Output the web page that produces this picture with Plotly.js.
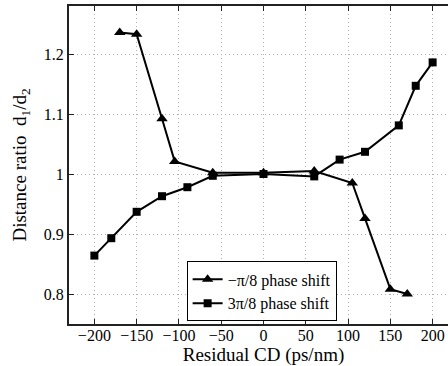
<!DOCTYPE html>
<html><head><meta charset="utf-8">
<script src="https://cdn.plot.ly/plotly-3.0.1.min.js"></script>
<style>html,body{margin:0;padding:0;overflow:hidden;background:#fff;width:448px;height:366px}</style>
</head><body>
<div id="chart" style="width:470px;height:366px"></div>
<script>
const triX = [-170, -150, -120, -105, -60, 0, 60, 105, 120, 150, 170];
const triY = [1.236, 1.233, 1.092, 1.021, 1.002, 1.002, 1.005, 0.985, 0.926, 0.808, 0.800];
const sqX = [-200, -180, -150, -120, -90, -60, 0, 60, 90, 120, 160, 180, 200];
const sqY = [0.864, 0.893, 0.937, 0.963, 0.978, 0.997, 1.000, 0.996, 1.024, 1.037, 1.081, 1.147, 1.186];
const seriesNames = ['\u2212\u03c0/8 phase shift', '3\u03c0/8 phase shift'];
const xTicks = [-200, -150, -100, -50, 0, 50, 100, 150, 200];
const yTicks = [0.8, 0.9, 1.0, 1.1, 1.2];
const yTickText = ['0.8', '0.9', '1', '1.1', '1.2'];

const font = {family: '"Liberation Serif", "Times New Roman", serif', color: '#000'};
const traces = [
  {x: triX, y: triY, name: seriesNames[0], mode: 'lines+markers', type: 'scatter',
   line: {color: '#000', width: 2}, marker: {symbol: 'triangle-up', size: 10, color: '#000'}},
  {x: sqX, y: sqY, name: seriesNames[1], mode: 'lines+markers', type: 'scatter',
   line: {color: '#000', width: 2}, marker: {symbol: 'square', size: 8, color: '#000'}}
];
const axisCommon = {
  showline: true, linecolor: '#222', linewidth: 2, mirror: 'ticks',
  ticks: 'inside', ticklen: 5, tickcolor: '#222', tickwidth: 1,
  showgrid: true, gridcolor: '#b0b0b0', gridwidth: 1, griddash: '1px,3px',
  zeroline: false, tickfont: Object.assign({size: 16}, font)
};
const layout = {
  width: 470, height: 366,
  margin: {l: 69, r: 12, t: 6, b: 42},
  paper_bgcolor: '#fff', plot_bgcolor: '#fff',
  font: font,
  showlegend: true,
  legend: {x: 0.688, y: 0.008, xanchor: 'right', yanchor: 'bottom',
    bgcolor: '#fff', bordercolor: '#000', borderwidth: 1,
    font: Object.assign({size: 16}, font), tracegroupgap: 0, itemwidth: 30},
  xaxis: Object.assign({}, axisCommon, {range: [-230, 230], tickvals: xTicks,
    ticklabelstandoff: -4,
    title: {text: 'Residual CD (ps/nm)', font: Object.assign({size: 19}, font), standoff: 0}}),
  yaxis: Object.assign({}, axisCommon, {range: [0.75, 1.28], tickvals: yTicks, ticktext: yTickText,
    title: {text: 'Distance ratio  d<sub>1</sub>/d<sub>2</sub>', font: Object.assign({size: 19}, font), standoff: 12}})
};
Plotly.newPlot('chart', traces, layout, {displayModeBar: false, staticPlot: true});
</script>
</body></html>
